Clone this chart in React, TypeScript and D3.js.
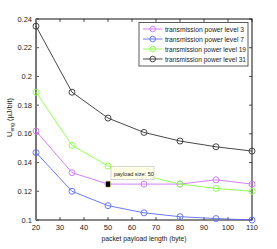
import { useEffect, useRef } from "react";
import * as d3 from "d3";

const payloadSizes = [20, 35, 50, 65, 80, 95, 110];
const level3 = [0.162, 0.133, 0.125, 0.125, 0.125, 0.128, 0.125];
const level7 = [0.147, 0.12, 0.11, 0.105, 0.1023, 0.101, 0.1];
const level19 = [0.189, 0.152, 0.1376, 0.131, 0.125, 0.122, 0.12];
const level31 = [0.235, 0.189, 0.171, 0.161, 0.155, 0.151, 0.148];
const seriesNames = [
  "transmission power level 3",
  "transmission power level 7",
  "transmission power level 19",
  "transmission power level 31",
];
const seriesColors = ["#d070ff", "#5a6cf0", "#88ff40", "#333333"];
const xTicks = [20, 30, 40, 50, 60, 70, 80, 90, 100, 110];
const yTicks = [0.1, 0.12, 0.14, 0.16, 0.18, 0.2, 0.22, 0.24];
const tipX = 50;
const tipY = 0.125;
const tipLabel = "payload size: 50";

function App() {
  const ref = useRef<SVGSVGElement>(null);

  useEffect(() => {
    drawChart();
  }, []);

  function drawChart() {
    const width = 277,
      height = 249;
    const margin = { top: 19, right: 25, bottom: 29, left: 36 };
    const font = "Liberation Sans, Arial, sans-serif";

    const svg = d3.select(ref.current);
    svg.selectAll("*").remove();

    svg.append("rect").attr("width", width).attr("height", height).attr("fill", "#fff");

    const x = d3.scaleLinear().domain([20, 110]).range([margin.left, width - margin.right]);
    const y = d3.scaleLinear().domain([0.1, 0.24]).range([height - margin.bottom, margin.top]);

    const allSeries = [level3, level7, level19, level31];

    // ticks pointing inward on all four sides
    const tickG = svg.append("g").attr("stroke", "#222").attr("stroke-width", 0.8);
    xTicks.forEach((t) => {
      tickG.append("line").attr("x1", x(t)).attr("x2", x(t)).attr("y1", y(0.1)).attr("y2", y(0.1) - 3);
      tickG.append("line").attr("x1", x(t)).attr("x2", x(t)).attr("y1", y(0.24)).attr("y2", y(0.24) + 3);
    });
    yTicks.forEach((t) => {
      tickG.append("line").attr("x1", x(20)).attr("x2", x(20) + 3).attr("y1", y(t)).attr("y2", y(t));
      tickG.append("line").attr("x1", x(110)).attr("x2", x(110) - 3).attr("y1", y(t)).attr("y2", y(t));
    });

    // box
    svg.append("rect")
      .attr("x", x(20))
      .attr("y", y(0.24))
      .attr("width", x(110) - x(20))
      .attr("height", y(0.1) - y(0.24))
      .attr("fill", "none")
      .attr("stroke", "#111")
      .attr("stroke-width", 1);
    svg.append("line")
      .attr("x1", x(20)).attr("x2", x(20))
      .attr("y1", y(0.24)).attr("y2", y(0.1))
      .attr("stroke", "#777").attr("stroke-width", 2);

    // tick labels
    svg.append("g")
      .selectAll("text")
      .data(xTicks)
      .join("text")
      .attr("x", (d) => x(d))
      .attr("y", y(0.1) + 10)
      .attr("text-anchor", "middle")
      .attr("font-family", font)
      .attr("font-size", 7.5)
      .attr("fill", "#222")
      .text((d) => d);

    svg.append("g")
      .selectAll("text")
      .data(yTicks)
      .join("text")
      .attr("x", x(20) - 4)
      .attr("y", (d) => y(d) + 2.5)
      .attr("text-anchor", "end")
      .attr("font-family", font)
      .attr("font-size", 7.5)
      .attr("fill", "#222")
      .text((d) => String(+d.toFixed(2)));

    // axis titles
    svg.append("text")
      .attr("x", (x(20) + x(110)) / 2)
      .attr("y", 241)
      .attr("text-anchor", "middle")
      .attr("font-family", font)
      .attr("font-size", 7.5)
      .attr("fill", "#222")
      .attr("textLength", 85)
      .attr("lengthAdjust", "spacingAndGlyphs")
      .text("packet payload length (byte)");

    const yl = svg.append("text")
      .attr("transform", `translate(12,${(y(0.1) + y(0.24)) / 2 - 2}) rotate(-90)`)
      .attr("text-anchor", "middle")
      .attr("font-family", font)
      .attr("font-size", 7.5)
      .attr("fill", "#222");
    yl.append("tspan").text("U");
    yl.append("tspan").attr("dy", 2).attr("font-size", 5).text("eng");
    yl.append("tspan").attr("dy", -2).text(" (\u00b5J/bit)");

    // lines and markers
    const line = d3.line<number>()
      .x((_, i) => x(payloadSizes[i]))
      .y((d) => y(d));

    allSeries.forEach((vals, s) => {
      const g = svg.append("g");
      g.append("path")
        .attr("d", line(vals))
        .attr("fill", "none")
        .attr("stroke", seriesColors[s])
        .attr("stroke-width", 0.9);
      g.selectAll("circle")
        .data(vals)
        .join("circle")
        .attr("cx", (_, i) => x(payloadSizes[i]))
        .attr("cy", (d) => y(d))
        .attr("r", 3)
        .attr("fill", "none")
        .attr("stroke", seriesColors[s])
        .attr("stroke-width", 0.9);
    });

    // data tip
    const tx = x(tipX);
    const ty = y(tipY);
    svg.append("rect")
      .attr("x", tx + 3)
      .attr("y", ty - 17.5)
      .attr("width", 43)
      .attr("height", 13)
      .attr("fill", "#ffffe6")
      .attr("stroke", "#cccccc")
      .attr("stroke-width", 0.8);
    svg.append("text")
      .attr("x", tx + 6)
      .attr("y", ty - 8.5)
      .attr("font-family", font)
      .attr("font-size", 5.5)
      .attr("fill", "#222")
      .text(tipLabel);
    svg.append("rect")
      .attr("x", tx - 2.5)
      .attr("y", ty - 3)
      .attr("width", 5)
      .attr("height", 6)
      .attr("fill", "#000")
      .attr("stroke", "#ffff99")
      .attr("stroke-width", 0.6);

    // legend
    const lg = svg.append("g");
    lg.append("rect")
      .attr("x", 139)
      .attr("y", 22.5)
      .attr("width", 109)
      .attr("height", 43.5)
      .attr("fill", "#fff")
      .attr("stroke", "#333")
      .attr("stroke-width", 0.8);
    const rowY = [29, 39, 49, 59];
    seriesNames.forEach((name, i) => {
      lg.append("line")
        .attr("x1", 143).attr("x2", 162.5)
        .attr("y1", rowY[i]).attr("y2", rowY[i])
        .attr("stroke", seriesColors[i]).attr("stroke-width", 0.9);
      lg.append("circle")
        .attr("cx", 152.7).attr("cy", rowY[i]).attr("r", 2.8)
        .attr("fill", "none").attr("stroke", seriesColors[i]).attr("stroke-width", 0.9);
      lg.append("text")
        .attr("x", 165)
        .attr("y", rowY[i] + 2.5)
        .attr("font-family", font)
        .attr("font-size", 7)
        .attr("fill", "#222")
        .attr("textLength", i < 2 ? 79 : 81)
        .attr("lengthAdjust", "spacingAndGlyphs")
        .text(name);
    });
  }

  return (
    <svg
      ref={ref}
      width={277}
      height={249}
      style={{ position: "absolute", left: 0, top: 0, display: "block" }}
    />
  );
}

export default App;
